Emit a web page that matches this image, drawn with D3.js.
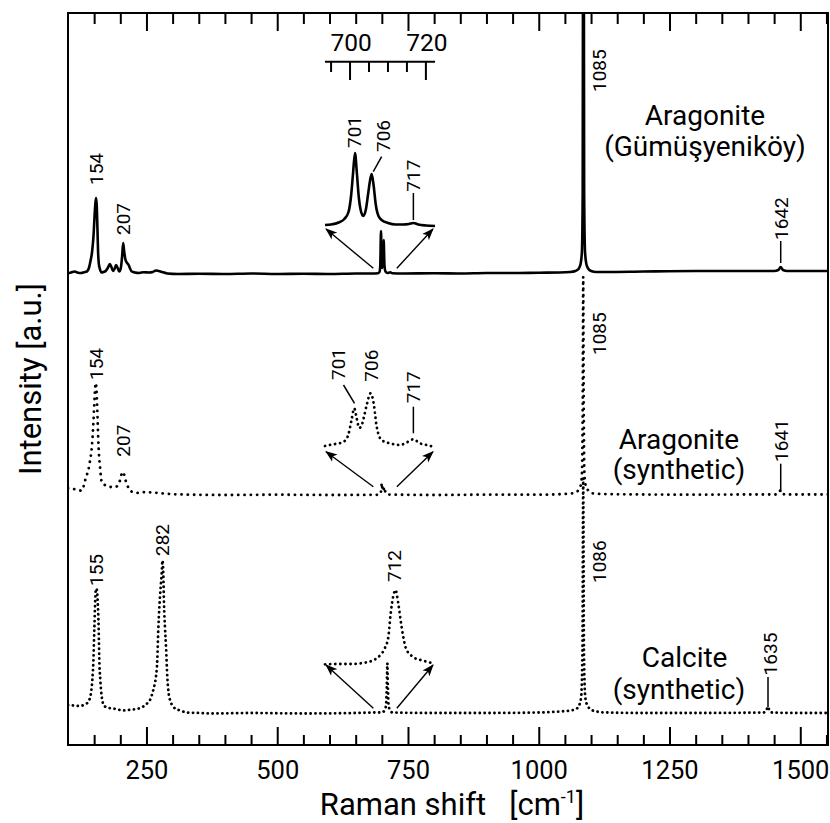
<!DOCTYPE html>
<html><head><meta charset="utf-8">
<script src="https://cdn.jsdelivr.net/npm/d3@7"></script>
<style>
body{margin:0;background:#fff}
svg text{font-family:Roboto,"DejaVu Sans",sans-serif;fill:#000}
</style></head><body>
<svg id="c" width="830" height="823"></svg>
<script>
// ---------------- DATA ----------------
const xDomain = [100, 1553];           // Raman shift [cm-1]
const yDomain = [0, 732];              // intensity [a.u.]
const insetDomain = [693.4, 722.4];    // magnified region [cm-1]
const majorTicks = [250, 500, 750, 1000, 1250, 1500];
const minorTicks = [150,200,300,350,400,450,550,600,650,700,800,850,900,950,1050,1100,1150,1200,1300,1350,1400,1450,1550];
const insetMajorTicks = [700, 720];
const insetMinorTicks = [695, 705, 710, 715];
const sampleNames = [["Aragonite", "(Gümüşyeniköy)"], ["Aragonite", "(synthetic)"], ["Calcite", "(synthetic)"]];
const offsets = [471, 250, 31.5];       // vertical stacking offsets
const insetOffsets = [520, 299, 81];

const spectrumTop = [[100,0.7],[106,1.5],[113,2.5],[119,1.2],[125,1],[131,1.8],[136,2.5],[140,6],[143,13],[146,22],[149,40],[151,60],[152.6,72],[153.8,76],[155,68],[156.3,45],[157.5,22],[159,10],[161,5],[164,1.5],[168,2],[172,3],[176,6],[180,10],[183,7],[186,3],[189,5],[192,9],[195,6],[198,2.5],[201,6],[203.5,18],[205.5,31],[207.5,22],[210,14],[213,11],[216,9],[219,5],[222,2.5],[228,1.5],[236,1],[245,1.8],[255,1.5],[262,2],[268,3.5],[273,3],[280,2],[290,0.5],[310,0],[350,0.3],[400,0],[450,0.5],[500,0],[550,0.3],[600,0],[650,0.5],[680,0.5],[693,0.8],[695.5,2],[697,8],[698.4,43],[699.6,12],[700.6,6],[702,12],[703.5,34],[705,9],[707,2.5],[711,1],[716,1.8],[720,0.8],[740,0.5],[800,0.8],[850,0.5],[900,1],[950,1],[1000,1.3],[1040,1.5],[1060,2],[1070,3],[1076,5],[1080,10],[1082.5,22],[1084,80],[1084.8,400],[1085.4,950],[1086,400],[1086.8,80],[1088.5,22],[1091,10],[1095,5],[1100,3],[1110,2],[1130,2],[1200,2.5],[1300,3],[1400,3],[1450,3],[1458,4],[1462.6,7],[1467,4],[1475,3],[1553,3]];

const spectrumMiddle = [[100,7],[106,6.5],[113,5.7],[120,5],[126,4.3],[130,9],[133,15],[136,20],[139,25],[142,34],[145,45],[147,58],[148.5,72],[150,88],[151.6,105],[153,112],[154.5,105],[156,85],[157.9,55],[159.5,38],[161.2,28],[163,18],[164.4,13],[167,11],[170.7,10],[175,9],[180,8],[185,8],[190,8],[196,10],[199,14],[202.5,21],[205.5,23],[208,19],[211,13],[214,9],[218,5],[223,3],[228,2],[240,2.5],[250,3],[260,2.5],[275,2],[285,1.5],[295,1],[320,0.5],[400,0],[500,0.3],[600,0],[690,0.2],[697,1],[699,6],[700,12],[701.5,4],[703,5],[705,8],[707,2],[710,0.5],[800,0],[900,0.3],[1000,0.3],[1050,1],[1068,2],[1076,5],[1080,9],[1082.5,20],[1084,90],[1085,218],[1086,90],[1087.5,20],[1090,9],[1094,5],[1100,2],[1120,1],[1200,0.5],[1300,0.3],[1400,0.5],[1455,0.5],[1460,3],[1462.6,5],[1465,3],[1470,0.5],[1553,0.5]];

const spectrumBottom = [[100,8.5],[110,8],[123,7.5],[130,8.5],[136,10],[140,13],[143.4,18.5],[146.5,33.5],[148.4,50.5],[150.3,83.5],[152.2,115],[153.5,125],[155,124],[156.8,112],[158.7,83.5],[159.8,55],[161.8,33.5],[164.4,17],[167,10],[170.7,7],[178,5.5],[186.6,5],[195,4],[205.7,3],[215,3.5],[224.8,4],[235,5],[244,7],[251,10],[256.8,13.5],[260,18],[263.1,23.5],[266,30],[268.2,37],[270.7,53.5],[272.6,83.5],[274.5,105],[276,118],[279.1,140],[280.6,153],[282.2,140],[283.5,110],[285.5,85],[287.4,67],[289.8,37],[292,22],[295,13.5],[300,8],[304.6,5],[315,3],[327,1],[350,0.5],[372,0],[450,0.5],[550,0],[650,0.5],[690,1],[700,1],[705,3],[708,8],[709.5,28],[710.5,50],[711.5,28],[713,8],[716,3],[720,1],[800,0.5],[900,0.5],[1000,1],[1040,2],[1060,3],[1070,4],[1077,8],[1081,16],[1083.5,60],[1085,235],[1086.5,60],[1089,16],[1093,8],[1100,4],[1110,2],[1130,1],[1200,0.5],[1300,0.5],[1400,0.8],[1430,1],[1435,3],[1438.3,7],[1441,3],[1446,1],[1500,0.5],[1553,0.5]];

const insetTop = [[693.4,0],[695,0.5],[697,2.5],[698.5,6],[699.6,13],[700.3,30],[700.8,52],[701.3,72],[701.8,52],[702.3,28],[702.8,15],[703.5,9],[704.2,16],[704.8,32],[705.3,45],[705.7,51],[706.2,40],[706.8,20],[707.5,9],[708.5,4.5],[710,2],[712,0.5],[714,0.5],[715.5,1],[716.7,2],[718,0.5],[720,-0.5],[722.4,-1]];
const insetMiddle = [[693.4,0],[695.6,1.7],[697.5,3],[698.6,5],[699.6,12],[700.4,26],[701.1,37.7],[701.8,27],[702.4,18],[703,20],[703.6,28],[704.4,41],[705.4,52.7],[706.3,41],[707,20],[708.3,6],[710.5,2.7],[713.2,1],[715.3,4.3],[716.7,6.7],[718.4,2.7],[720.2,1],[721.9,-0.7]];
const insetBottom = [[693.4,-0.3],[697,0],[700,0],[703,0.8],[704.4,1.7],[706,3.5],[707,5.7],[708,9],[709.2,16],[710.1,27],[710.7,50],[711.4,68],[712,74],[712.7,61],[713.6,37],[714.7,16],[716,9],[716.7,6.7],[719.3,3.3],[721.9,0.7]];

// peak labels: text, peak position
const peakLabelsTop = [["154",153.8],["207",205.5],["1085",1085],["1642",1462.6]];
const peakLabelsMiddle = [["154",153.5],["207",205.5],["1085",1085],["1641",1462.6]];
const peakLabelsBottom = [["155",154],["282",280.6],["1086",1085],["1635",1438.3]];
const insetLabelsTop = [["701",701.3],["706",705.7],["717",716.7]];
const insetLabelsMiddle = [["701",701.1],["706",705.4],["717",716.7]];
const insetLabelsBottom = [["712",712]];

// ---------------- CHART ----------------
const svg = d3.select("#c");
const L = 68, R = 828, T = 13, B = 745;
const x = d3.scaleLinear().domain(xDomain).range([L, R]);
const y = d3.scaleLinear().domain(yDomain).range([B, T]);
const ix = d3.scaleLinear().domain(insetDomain).range([325, 435]);

svg.append("rect").attr("width",830).attr("height",823).attr("fill","#fff");
const defs = svg.append("defs");
defs.append("clipPath").attr("id","clip").append("rect").attr("x",L).attr("y",T).attr("width",R-L).attr("height",B-T);
defs.append("marker").attr("id","arr").attr("viewBox","0 0 12 10").attr("refX",11).attr("refY",5)
  .attr("markerWidth",12).attr("markerHeight",10).attr("markerUnits","userSpaceOnUse").attr("orient","auto")
  .append("path").attr("d","M0,0.5 L12,5 L0,9.5 L3,5 Z").attr("fill","#000");

const plot = svg.append("g").attr("clip-path","url(#clip)");
const styles = [
  {w:2.6, dash:null},
  {w:2.8, dash:"0.1,6.2"},
  {w:2.8, dash:"0.1,4.8"}
];
const spectra = [spectrumTop, spectrumMiddle, spectrumBottom];
spectra.forEach((s,i) => {
  const line = d3.line().x(d=>x(d[0])).y(d=>y(d[1]+offsets[i])).curve(d3.curveMonotoneX);
  const p = plot.append("path").datum(s).attr("d",line).attr("fill","none").attr("stroke","#000")
    .attr("stroke-width",styles[i].w).attr("stroke-linejoin","round");
  if (styles[i].dash) p.attr("stroke-dasharray",styles[i].dash).attr("stroke-linecap","round");
});

// insets
const insets = [insetTop, insetMiddle, insetBottom];
insets.forEach((s,i) => {
  const line = d3.line().x(d=>ix(d[0])).y(d=>y(d[1]+insetOffsets[i])).curve(d3.curveMonotoneX);
  const p = svg.append("path").datum(s).attr("d",line).attr("fill","none").attr("stroke","#000")
    .attr("stroke-width", i===0 ? 2.6 : 2.8).attr("stroke-linejoin","round");
  if (i>0) p.attr("stroke-dasharray","0.1,5").attr("stroke-linecap","round");
});

// arrows from main 700 region to insets
const arrowStartsY = [268.3, 486.7, 708.3];
const arrowEndsY = [229, 451.7, 665];
arrowStartsY.forEach((ys,i) => {
  svg.append("line").attr("x1",x(700)-8.5).attr("y1",ys).attr("x2",ix(insetDomain[0])+1).attr("y2",arrowEndsY[i])
    .attr("stroke","#000").attr("stroke-width",1.4).attr("marker-end","url(#arr)");
  svg.append("line").attr("x1",x(700)+15).attr("y1",ys).attr("x2",ix(insetDomain[1])-2).attr("y2",arrowEndsY[i])
    .attr("stroke","#000").attr("stroke-width",1.4).attr("marker-end","url(#arr)");
});

// inset axis
const ia = svg.append("g");
ia.append("line").attr("x1",ix(insetDomain[0])).attr("x2",ix(insetDomain[1])).attr("y1",61.7).attr("y2",61.7).attr("stroke","#000").attr("stroke-width",2);
insetMajorTicks.forEach(v=>{
  ia.append("line").attr("x1",ix(v)).attr("x2",ix(v)).attr("y1",61.7).attr("y2",80).attr("stroke","#000").attr("stroke-width",2);
  ia.append("text").attr("x",ix(v)+1).attr("y",51).attr("text-anchor","middle").attr("font-size",24.5).text(v);
});
insetMinorTicks.forEach(v=>{
  ia.append("line").attr("x1",ix(v)).attr("x2",ix(v)).attr("y1",61.7).attr("y2",72).attr("stroke","#000").attr("stroke-width",2);
});

// axes
function styleAxis(g){ g.select(".domain").remove(); g.selectAll(".tick line").attr("stroke-width",2); }
svg.append("g").attr("transform",`translate(0,${B})`).call(d3.axisBottom(x).tickValues(minorTicks).tickSize(-10).tickFormat("")).call(styleAxis);
svg.append("g").attr("transform",`translate(0,${B})`).call(d3.axisBottom(x).tickValues(majorTicks).tickSize(-18).tickPadding(16).tickFormat(d3.format("d")))
  .call(styleAxis).call(g=>g.selectAll("text").attr("font-size",25.5).attr("font-family","Roboto"));
svg.append("g").attr("transform",`translate(0,${T})`).call(d3.axisTop(x).tickValues(minorTicks).tickSize(-11).tickFormat("")).call(styleAxis);
svg.append("g").attr("transform",`translate(0,${T})`).call(d3.axisTop(x).tickValues(majorTicks).tickSize(-18).tickFormat("")).call(styleAxis);
svg.append("rect").attr("x",L).attr("y",T).attr("width",R-L).attr("height",B-T).attr("fill","none").attr("stroke","#000").attr("stroke-width",2);

// rotated labels
function vlabel(t, cx, yb){
  svg.append("text").attr("transform",`translate(${cx},${yb}) rotate(-90)`).attr("dominant-baseline","central")
    .attr("font-size",19).text(t);
}
function seg(x1,y1,x2,y2){ svg.append("line").attr("x1",x1).attr("y1",y1).attr("x2",x2).attr("y2",y2).attr("stroke","#000").attr("stroke-width",1.5); }

// top spectrum labels
vlabel(peakLabelsTop[0][0], x(peakLabelsTop[0][1]), 185);
vlabel(peakLabelsTop[1][0], x(peakLabelsTop[1][1]), 235);
vlabel(peakLabelsTop[2][0], x(peakLabelsTop[2][1])+16, 92);
vlabel(peakLabelsTop[3][0], x(peakLabelsTop[3][1])+0.5, 240);
seg(x(peakLabelsTop[3][1]), 241, x(peakLabelsTop[3][1]), 263);
vlabel(insetLabelsTop[0][0], ix(insetLabelsTop[0][1]), 148);
vlabel(insetLabelsTop[1][0], ix(insetLabelsTop[1][1])+12, 152);
seg(ix(insetLabelsTop[1][1])+1.6, 171.7, ix(insetLabelsTop[1][1])+10, 156.7);
vlabel(insetLabelsTop[2][0], ix(insetLabelsTop[2][1]), 191.7);
seg(ix(insetLabelsTop[2][1]), 193, ix(insetLabelsTop[2][1]), 220);

// middle spectrum labels
vlabel(peakLabelsMiddle[0][0], x(peakLabelsMiddle[0][1])+0.5, 380);
vlabel(peakLabelsMiddle[1][0], x(peakLabelsMiddle[1][1]), 456.7);
vlabel(peakLabelsMiddle[2][0], x(peakLabelsMiddle[2][1])+16, 355);
vlabel(peakLabelsMiddle[3][0], x(peakLabelsMiddle[3][1])+0.8, 462);
seg(x(peakLabelsMiddle[3][1]), 463.7, x(peakLabelsMiddle[3][1]), 492);
vlabel(insetLabelsMiddle[0][0], ix(insetLabelsMiddle[0][1])-16, 380);
seg(ix(insetLabelsMiddle[0][1])-10.7, 385, ix(insetLabelsMiddle[0][1])+0.3, 403.3);
vlabel(insetLabelsMiddle[1][0], ix(insetLabelsMiddle[1][1])+1, 381.7);
vlabel(insetLabelsMiddle[2][0], ix(insetLabelsMiddle[2][1]), 403.3);
seg(ix(insetLabelsMiddle[2][1]), 406.7, ix(insetLabelsMiddle[2][1]), 433.3);

// bottom spectrum labels
vlabel(peakLabelsBottom[0][0], x(peakLabelsBottom[0][1]), 586);
vlabel(peakLabelsBottom[1][0], x(peakLabelsBottom[1][1]), 556);
vlabel(peakLabelsBottom[2][0], x(peakLabelsBottom[2][1])+16, 583);
vlabel(peakLabelsBottom[3][0], x(peakLabelsBottom[3][1])+2.5, 675.4);
seg(x(peakLabelsBottom[3][1]), 677, x(peakLabelsBottom[3][1]), 707);
vlabel(insetLabelsBottom[0][0], ix(insetLabelsBottom[0][1])-1, 582);

// sample names
const namePos = [[705,125.4,705,155.5],[679,448.7,679,478.8],[684.6,667,679,698.8]];
sampleNames.forEach((n,i)=>{
  const p = namePos[i];
  svg.append("text").attr("x",p[0]).attr("y",p[1]).attr("text-anchor","middle").attr("font-size",28).text(n[0]);
  svg.append("text").attr("x",p[2]).attr("y",p[3]).attr("text-anchor","middle").attr("font-size",28).text(n[1]);
});

// axis titles
const xt = svg.append("text").attr("x",452).attr("y",815).attr("text-anchor","middle").attr("font-size",31).style("white-space","pre");
xt.append("tspan").text("Raman shift   [cm");
xt.append("tspan").attr("font-size",18).attr("dy",-12).text("-1");
xt.append("tspan").attr("dy",12).text("]");
svg.append("text").attr("transform","translate(30,379) rotate(-90)").attr("text-anchor","middle").attr("dominant-baseline","central")
  .attr("font-size",31).text("Intensity [a.u.]");
</script></body></html>
